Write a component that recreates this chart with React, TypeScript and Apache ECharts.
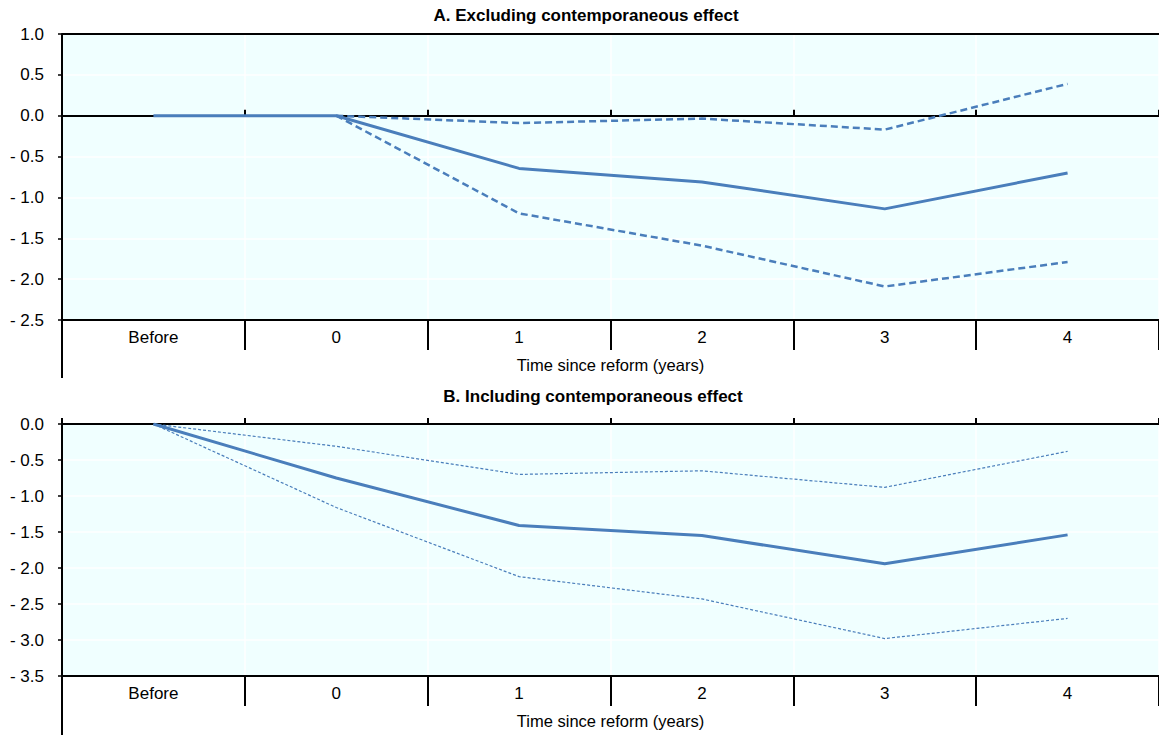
import React, { useEffect, useRef } from "react";
import * as echarts from "echarts";

const categories = ["Before", "0", "1", "2", "3", "4"];

// Panel A: Excluding contemporaneous effect
const mainA = [0, 0, -0.645, -0.81, -1.14, -0.70];
const upperA = [null, 0, -0.09, -0.035, -0.17, 0.39];
const lowerA = [null, 0, -1.195, -1.59, -2.09, -1.79];

// Panel B: Including contemporaneous effect
const mainB = [0, -0.75, -1.41, -1.55, -1.94, -1.54];
const upperB = [0, -0.31, -0.70, -0.65, -0.88, -0.38];
const lowerB = [0, -1.16, -2.12, -2.43, -2.98, -2.70];

const titleA = "A. Excluding contemporaneous effect";
const titleB = "B. Including contemporaneous effect";
const xName = "Time since reform (years)";

const FONT = "'Liberation Sans Narrow', 'Arial Narrow', 'Liberation Sans', Arial, sans-serif";
const BLUE = "#4A7EBB";
const BG = "#F0FFFF";

const W = 1159;
const H = 738;
const LEFT = 62;
const PW = 1098;
const gridA = { top: 34, height: 286 };
const gridB = { top: 424, height: 252 };

const fmt = (v: number) => (v < 0 ? "- " + Math.abs(v).toFixed(1) : v.toFixed(1));

export default function App() {
  const ref = useRef<HTMLDivElement>(null);
  useEffect(() => {
    document.body.style.margin = "0";
    const chart = echarts.init(ref.current!, null, { renderer: "svg" });
    const mkY = (gi: number, min: number, max: number) => ({
      type: "value",
      gridIndex: gi,
      min,
      max,
      interval: 0.5,
      axisLine: { show: true, lineStyle: { color: "#000", width: 2 } },
      axisTick: { show: true, length: 4, lineStyle: { color: "#000", width: 1.5 } },
      axisLabel: { formatter: fmt, color: "#000", fontSize: 17, fontFamily: FONT, margin: 18 },
      splitLine: { show: true, lineStyle: { color: "#FFFFFF", width: 1.5 } },
    });
    const mkXBottom = (gi: number, nameGap: number) => ({
      type: "category",
      gridIndex: gi,
      data: categories,
      position: "bottom",
      boundaryGap: true,
      name: xName,
      nameLocation: "middle",
      nameGap,
      nameTextStyle: { color: "#000", fontSize: 16.5, fontFamily: FONT },
      axisLine: { show: true, onZero: false, lineStyle: { color: "#000", width: 2 } },
      axisTick: { show: true, interval: 0, length: 30, lineStyle: { color: "#000", width: 2 } },
      axisLabel: { color: "#000", fontSize: 17, fontFamily: FONT, margin: 9, interval: 0 },
      splitLine: { show: true, interval: 0, lineStyle: { color: "#FFFFFF", width: 1.5 } },
    });
    const mkXZero = (gi: number) => ({
      type: "category",
      gridIndex: gi,
      data: categories,
      position: "top",
      boundaryGap: true,
      axisLine: { show: true, onZero: true, lineStyle: { color: "#000", width: 2 } },
      axisTick: { show: true, interval: 0, length: 6, lineStyle: { color: "#000", width: 2 } },
      axisLabel: { show: false },
      splitLine: { show: false },
    });
    const line = (name: string, data: (number | null)[], xi: number, yi: number, width: number, type: any) => ({
      name,
      type: "line",
      xAxisIndex: xi,
      yAxisIndex: yi,
      data,
      symbol: "none",
      connectNulls: false,
      lineStyle: { color: BLUE, width, type },
    });
    const extLine = (y1: number, y2: number) => ({
      type: "line",
      shape: { x1: LEFT, y1, x2: LEFT, y2 },
      style: { stroke: "#000", lineWidth: 2 },
      silent: true,
    });
    const aBottom = gridA.top + gridA.height;
    const bBottom = gridB.top + gridB.height;
    chart.setOption({
      animation: false,
      title: [
        {
          text: titleA,
          left: 581,
          textAlign: "center",
          top: 2,
          textStyle: { color: "#000", fontSize: 17, fontWeight: "bold", fontFamily: FONT },
        },
        {
          text: titleB,
          left: 588,
          textAlign: "center",
          top: 383,
          textStyle: { color: "#000", fontSize: 17, fontWeight: "bold", fontFamily: FONT },
        },
      ],
      grid: [
        { left: LEFT, top: gridA.top, width: PW, height: gridA.height, show: true, backgroundColor: BG, borderWidth: 0 },
        { left: LEFT, top: gridB.top, width: PW, height: gridB.height, show: true, backgroundColor: BG, borderWidth: 0 },
      ],
      xAxis: [mkXBottom(0, 36), mkXZero(0), mkXBottom(1, 36), mkXZero(1)],
      yAxis: [mkY(0, -2.5, 1.0), mkY(1, -3.5, 0)],
      series: [
        {
          ...line("mainA", mainA, 0, 0, 3, "solid"),
          markLine: {
            silent: true,
            symbol: "none",
            label: { show: false },
            lineStyle: { color: "#000", width: 2, type: "solid" },
            data: [{ yAxis: 1.0 }],
          },
        },
        line("upperA", upperA, 0, 0, 2.5, [7, 4]),
        line("lowerA", lowerA, 0, 0, 2.5, [7, 4]),
        line("mainB", mainB, 2, 1, 3, "solid"),
        line("upperB", upperB, 2, 1, 1.2, [3, 2]),
        line("lowerB", lowerB, 2, 1, 1.2, [3, 2]),
      ],
      graphic: [extLine(aBottom, aBottom + 58), extLine(bBottom, bBottom + 59)],
    });
    return () => chart.dispose();
  }, []);
  return <div ref={ref} style={{ width: W, height: H }} />;
}
